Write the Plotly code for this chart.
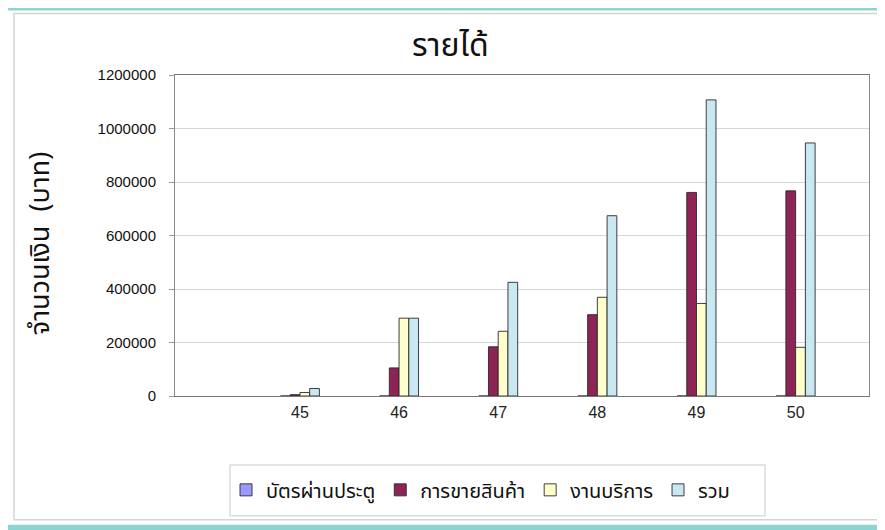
import plotly.graph_objects as go

years = ["45", "46", "47", "48", "49", "50"]
series_names = ["บัตรผ่านประตู", "การขายสินค้า", "งานบริการ", "รวม"]
gate_tickets = [0, 0, 0, 0, 0, 0]
merchandise = [5000, 105000, 184000, 304000, 761000, 767000]
services = [13000, 291000, 242000, 369000, 346000, 182000]
total = [28000, 291000, 425000, 674000, 1107000, 946000]
y_ticks = [0, 200000, 400000, 600000, 800000, 1000000, 1200000]

colors = ["#9999FF", "#8E2456", "#FFFFCC", "#C9E8F2"]
values = [gate_tickets, merchandise, services, total]

# the page body has an 8px margin; the figure is placed at screen (8, 8)
OFF = 8
W, H = 885 - OFF, 530 - OFF
L, R, T, B = 175 - OFF, 16, 74.5 - OFF, 134
pw = W - L - R
ph = H - T - B


def px(x):
    # screen x -> paper x
    return (x - OFF - L) / pw


def py(y):
    # screen y -> paper y
    return (H - B - (y - OFF)) / ph


fig = go.Figure()
for name, vals, col in zip(series_names, values, colors):
    fig.add_trace(go.Bar(
        x=years, y=vals, name=name,
        marker=dict(color=col, line=dict(color="#2a2a2a", width=0.9)),
    ))

thai_font = "Noto Sans Thai, Noto Sans, DejaVu Sans, sans-serif"

fig.update_layout(
    width=W, height=H,
    margin=dict(l=L, r=R, t=T, b=B),
    paper_bgcolor="#8dd3cf",
    plot_bgcolor="white",
    barmode="group",
    bargap=0.607,
    bargroupgap=0,
    showlegend=True,
    legend=dict(
        orientation="h", x=px(226), y=py(490), xanchor="left", yanchor="middle",
        font=dict(family=thai_font, size=20, color="#111"),
        bgcolor="rgba(0,0,0,0)", borderwidth=0,
        itemwidth=30, traceorder="normal",
    ),
    xaxis=dict(
        type="category", range=[-1.26, 5.74],
        showgrid=False, showline=True, linecolor="#777", linewidth=1, mirror=True,
        ticks="", ticklabelstandoff=2,
        tickfont=dict(family="Liberation Sans, Arial, sans-serif", size=16, color="#222"),
    ),
    yaxis=dict(
        range=[0, 1200000], tickvals=y_ticks, ticktext=[str(v) for v in y_ticks],
        showgrid=True, gridcolor="#d6d6d6", gridwidth=1,
        showline=True, linecolor="#888", linewidth=1, mirror=True,
        ticks="outside", ticklen=5, tickcolor="#999", ticklabelstandoff=10,
        tickfont=dict(family="Liberation Sans, Arial, sans-serif", size=15, color="#111"),
        zeroline=False,
    ),
    shapes=[
        dict(type="rect", xref="paper", yref="paper", layer="below",
             x0=px(0), x1=px(880), y0=py(525), y1=py(10),
             fillcolor="white", line=dict(width=0)),
        dict(type="rect", xref="paper", yref="paper", layer="below",
             x0=px(14), x1=px(878), y0=py(520), y1=py(13),
             fillcolor="white", line=dict(color="#d4d4d4", width=1.5)),
        dict(type="rect", xref="paper", yref="paper", layer="below",
             x0=px(230), x1=px(765), y0=py(516), y1=py(465),
             fillcolor="rgba(0,0,0,0)", line=dict(color="#dcdcdc", width=1.5)),
    ],
    annotations=[
        dict(text="รายได้", xref="paper", yref="paper", x=px(450), y=py(45),
             xanchor="center", yanchor="middle", showarrow=False,
             font=dict(family=thai_font, size=32, color="#111")),
        dict(text="จำนวนเงิน  (บาท)", xref="paper", yref="paper", x=px(40), y=py(243),
             xanchor="center", yanchor="middle", showarrow=False, textangle=-90,
             font=dict(family=thai_font, size=27, color="#111")),
    ],
)

fig.write_html("out.html")
